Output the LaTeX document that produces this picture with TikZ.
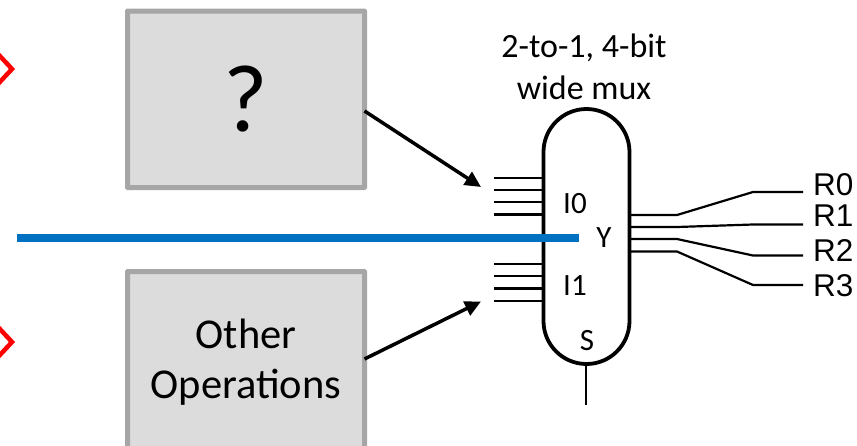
\documentclass[tikz,border=0pt]{standalone}
\usepackage{fontspec}
\setmainfont{Carlito}
\newfontfamily\arialf{Liberation Sans}
\usetikzlibrary{arrows.meta}
\definecolor{boxfill}{HTML}{DCDCDC}
\definecolor{boxline}{HTML}{A6A6A6}
\definecolor{barblue}{HTML}{0070C0}
\tikzset{
  x=1pt,y=-1pt,
  opbox/.style={draw=boxline,fill=boxfill,line width=5pt,minimum width=237pt,rounded corners=0.5pt,inner sep=0pt,outer sep=0pt,align=center,anchor=north west},
  muxbody/.style={draw=black,line width=3.8pt,fill=white,rounded corners=43pt,minimum width=86pt,minimum height=255pt,inner sep=0pt,outer sep=0pt,anchor=north west},
  bus/.style={draw=black,line width=2.2pt},
  feed/.style={draw=black,line width=3.5pt,-{Triangle[length=16pt,width=15pt]},shorten >=0pt},
  outlabel/.style={font=\arialf\fontsize{31.5}{31.5}\selectfont,anchor=west,inner sep=0pt},
  muxlabel/.style={font=\fontsize{31}{31}\selectfont,inner sep=0pt},
  diamondmark/.style={draw=red,line width=4.5pt,miter limit=10},
}
\begin{document}
\begin{tikzpicture}
\useasboundingbox (0,0) rectangle (857,445);
\begin{scope}
\clip (0,0) rectangle (857,445);
% red marks
\draw[diamondmark] (-2,54) -- (12,69) -- (-2,84);
\draw[diamondmark] (-2,327) -- (12,342) -- (-2,357);
% boxes
\node[opbox,minimum height=176.5pt,font=\fontsize{96}{96}\selectfont] (q) at (127.5,11) {?};
\node[opbox,minimum height=200pt] (other) at (127.5,271.5) {};
\node[font=\fontsize{42.5}{50}\selectfont,align=center,inner sep=0pt] (otherlbl) at (246,362) {Other\\Operations};
\end{scope}
% mux
\node[muxbody] (mux) at (543.5,109) {};
% title
\node[font=\fontsize{34}{42}\selectfont,align=center,inner sep=0pt] (title) at (584,67) {2-to-1, 4-bit\\wide mux};
% input buses
\foreach \n/\y in {a/177.7,b/190,c/202,d/214.5,e/264,f/276,g/288.5,h/301}{
  \coordinate (in\n) at (494,\y);
  \coordinate (ie\n) at (543,\y);
  \draw[bus] (in\n) -- (ie\n);
}
% feeds
\coordinate (t0) at (481,187);
\coordinate (t1) at (481,301.5);
\draw[feed] (q.east |- 0,111) -- (t0);
\draw[feed] (other.east |- 0,359) -- (t1);
% blue bar
\coordinate (bl) at (17,238);
\coordinate (br) at (579,238);
\draw[barblue,line width=8pt] (bl) -- (br);
% mux labels
\node[muxlabel] (i0) at (575,204) {I0};
\node[muxlabel] (i1) at (575,286) {I1};
\node[muxlabel] (yy) at (604,238) {Y};
\node[muxlabel] (ss) at (587,341) {S};
% select
\coordinate (sel) at (586,405);
\draw[bus] (586,364) -- (sel);
% outputs
\node[outlabel] (r0) at (813,185) {R0};
\node[outlabel] (r1) at (813,216) {R1};
\node[outlabel] (r2) at (813,250) {R2};
\node[outlabel] (r3) at (813,286) {R3};
\foreach \y/\ey/\ex in {215/192/803,227/224.5/803,239/255.5/803,251.5/285/803}{
  \coordinate (os) at (630,\y);
  \coordinate (oe) at (\ex,\ey);
  \draw[bus,line join=round] (os) -- (677,\y) -- (753,\ey) -- (oe);
}
\end{tikzpicture}
\end{document}
